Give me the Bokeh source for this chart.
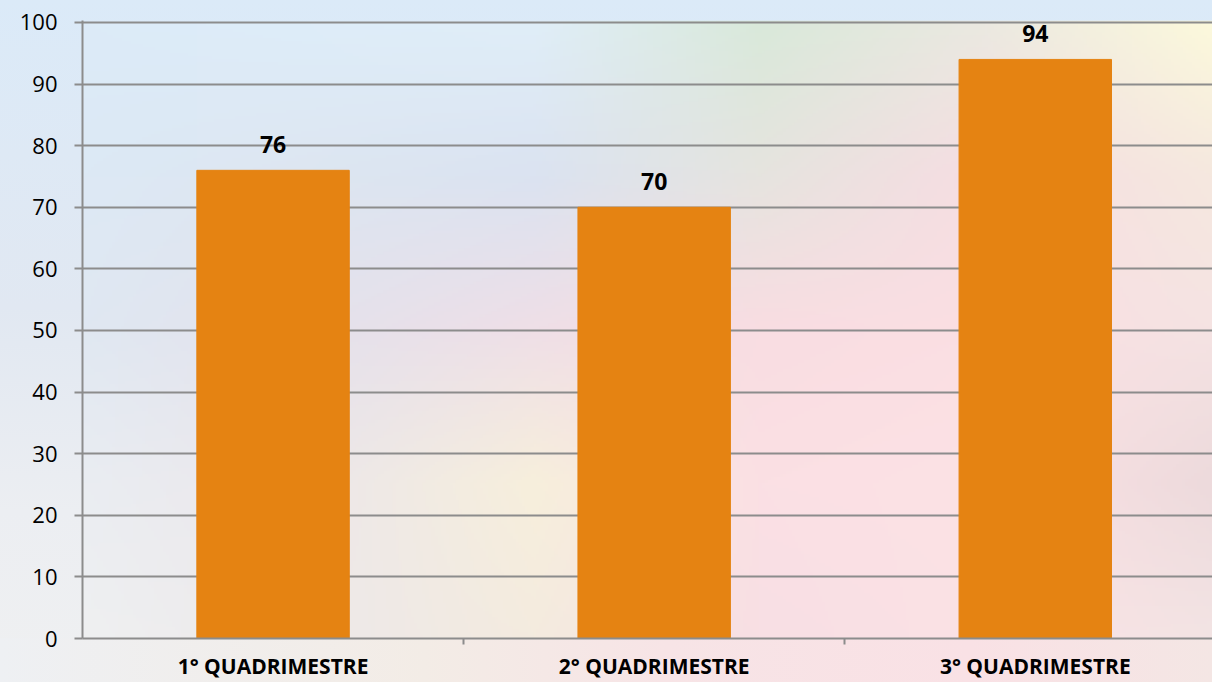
import numpy as np
from bokeh.plotting import figure
from bokeh.models import FixedTicker, Range1d
from bokeh.core.properties import value
from bokeh.embed import file_html
from bokeh.resources import INLINE

# ---- data ----
categories = ["1° QUADRIMESTRE", "2° QUADRIMESTRE", "3° QUADRIMESTRE"]
values = [76, 70, 94]
y_ticks = list(range(0, 101, 10))

# soft blurred background colour grid (rows top -> bottom, columns left -> right)
bg_rows = [
    ["#dcebf8", "#deedf9", "#e0eef8", "#d9e9da", "#ebe9e1", "#fcf9dc"],
    ["#dde9f5", "#dde6f1", "#dbe3f1", "#e6e4df", "#f7dde2", "#f5e8df"],
    ["#e0e8f2", "#e4e2ec", "#efdfe7", "#f9dde2", "#fbdfe3", "#f5e3e3"],
    ["#eaedf2", "#ece7ea", "#f7efdc", "#fbe0e4", "#fce2e5", "#eddadc"],
    ["#eff0f1", "#ede9ea", "#f4ebdf", "#f8dfe4", "#fbe2e5", "#f3e4e4"],
]

BAR_COLOR = "#e58312"
GRID_COLOR = "#8c8c8c"
X_END = 2.965
Y_END = 100.32

xs = [i + 0.5 for i in range(len(categories))]
bounds = [float(i) for i in range(1, len(categories))]


def hex_rgb(h):
    h = h.lstrip("#")
    return [int(h[k:k + 2], 16) for k in (0, 2, 4)]


def build_background(rows, H=206, W=376):
    g = np.array([[hex_rgb(c) for c in r] for r in rows], dtype=float)
    R, C, _ = g.shape
    gx = np.linspace(0, C - 1, W)
    gy = np.linspace(0, R - 1, H)
    tmp = np.zeros((R, W, 3))
    for r in range(R):
        for ch in range(3):
            tmp[r, :, ch] = np.interp(gx, np.arange(C), g[r, :, ch])
    out = np.zeros((H, W, 3))
    for ch in range(3):
        for w in range(W):
            out[:, w, ch] = np.interp(gy, np.arange(R), tmp[:, w, ch])
    out = out[::-1]  # image rows start at the bottom
    img = np.empty((H, W), dtype=np.uint32)
    view = img.view(dtype=np.uint8).reshape((H, W, 4))
    view[:, :, 0:3] = np.clip(out, 0, 255).astype(np.uint8)
    view[:, :, 3] = 255
    return img


p = figure(
    width=1212, height=682,
    output_backend="svg", toolbar_location=None,
    x_range=Range1d(0, X_END), y_range=Range1d(0, Y_END),
    min_border_left=82, min_border_right=0, min_border_top=20, min_border_bottom=44,
)
p.border_fill_color = None
p.background_fill_color = None
p.outline_line_color = None
p.styles = {
    "background-image": (
        "linear-gradient(to right, #eef0f3 0%, #f3ece6 35%, #f7e4e6 55%, #f9e1e5 80%, #f4e6e4 100%), "
        "linear-gradient(to bottom, #dbeaf8 0%, #e1e8f2 45%, #eceef2 75%, #eff0f1 100%)"
    ),
    "background-size": "100% 44px, 100% 100%",
    "background-position": "left bottom, left top",
    "background-repeat": "no-repeat",
}

p.image_rgba(image=[build_background(bg_rows)], x=0, y=0, dw=X_END, dh=Y_END, level="image")

# grid
p.xgrid.visible = False
p.ygrid.ticker = FixedTicker(ticks=y_ticks)
p.ygrid.grid_line_color = GRID_COLOR
p.ygrid.grid_line_width = 2

# y axis
p.yaxis.ticker = FixedTicker(ticks=y_ticks)
p.yaxis.axis_line_color = GRID_COLOR
p.yaxis.axis_line_width = 2
p.yaxis.major_tick_line_color = GRID_COLOR
p.yaxis.major_tick_line_width = 2
p.yaxis.major_tick_out = 8
p.yaxis.major_tick_in = 0
p.yaxis.minor_tick_line_color = None
p.yaxis.major_label_text_font = "Open Sans"
p.yaxis.major_label_text_font_size = "22px"
p.yaxis.major_label_text_color = "#000000"
p.yaxis.major_label_standoff = 17

# x axis
p.xaxis.ticker = FixedTicker(ticks=xs, minor_ticks=bounds)
p.xaxis.major_label_overrides = {x: c for x, c in zip(xs, categories)}
p.xaxis.axis_line_color = GRID_COLOR
p.xaxis.axis_line_width = 2
p.xaxis.major_tick_line_color = None
p.xaxis.major_tick_out = 0
p.xaxis.major_tick_in = 0
p.xaxis.minor_tick_line_color = GRID_COLOR
p.xaxis.minor_tick_line_width = 2
p.xaxis.minor_tick_out = 6
p.xaxis.minor_tick_in = 0
p.xaxis.major_label_text_font = "Open Sans"
p.xaxis.major_label_text_font_style = "bold"
p.xaxis.major_label_text_font_size = "21px"
p.xaxis.major_label_text_color = "#000000"
p.xaxis.major_label_standoff = 7

# bars
p.vbar(x=xs, top=values, width=0.4, bottom=0,
       fill_color=BAR_COLOR, line_color=BAR_COLOR, line_width=1)

# value labels
p.text(x=xs, y=values, text=[str(v) for v in values],
       text_font=value("Open Sans"), text_font_style="bold", text_font_size="23px",
       text_color="#000000", text_align="center", text_baseline="alphabetic",
       y_offset=-26)

open("out.html", "w").write(file_html(p, INLINE))
